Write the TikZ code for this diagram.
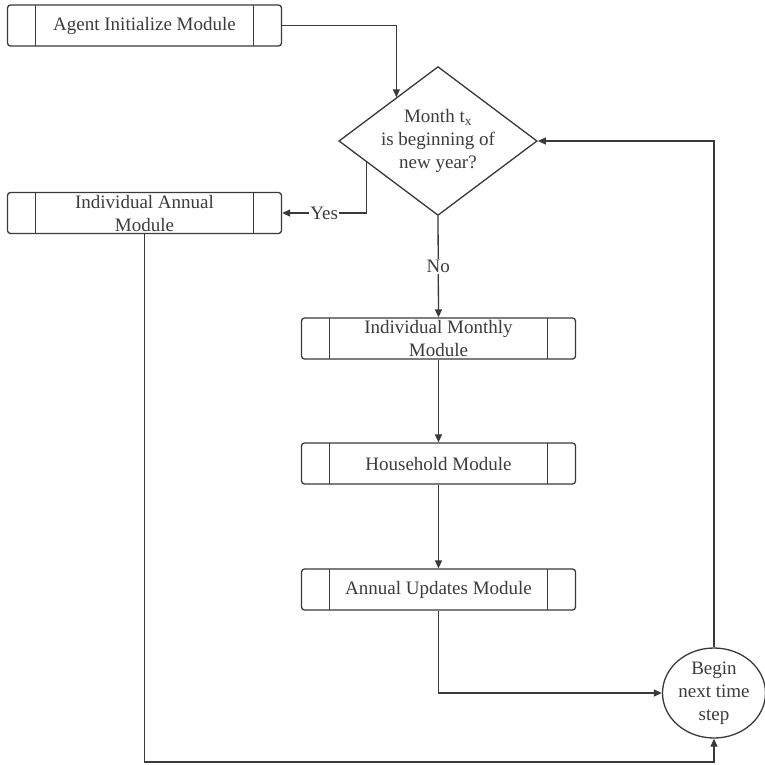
\documentclass[tikz,border=0pt]{standalone}
\usepackage{fontspec}
\setmainfont{Liberation Serif}
\usetikzlibrary{shapes.geometric,arrows.meta,calc}
\definecolor{lc}{RGB}{58,58,58}
\definecolor{tc}{RGB}{60,60,60}
\begin{document}
\begin{tikzpicture}[x=1pt,y=-1pt,
  every node/.style={font=\fontsize{19}{23}\selectfont, text=tc},
  proc/.style={draw=lc, line width=1.3pt, rounded corners=3pt, minimum width=274pt, minimum height=41pt, inner sep=0pt, align=center,
    path picture={\draw[lc, line width=1.3pt] ([xshift=28pt]path picture bounding box.north west) -- ([xshift=28pt]path picture bounding box.south west);
                  \draw[lc, line width=1.3pt] ([xshift=-28pt]path picture bounding box.north east) -- ([xshift=-28pt]path picture bounding box.south east);}},
  dec/.style={draw=lc, line width=1.3pt, shape=diamond, aspect=1.333, minimum width=192pt, minimum height=144pt, inner sep=0pt, align=center},
  term/.style={draw=lc, line width=1.3pt, shape=ellipse, minimum width=103pt, minimum height=90pt, inner sep=0pt, align=center},
  conn/.style={draw=lc, line width=1.3pt, -{Triangle[length=8pt,width=7pt]}},
  lbl/.style={fill=white, inner sep=1pt}
]
\useasboundingbox (0,0) rectangle (765,764);
\fill[white] (0,0) rectangle (765,764);

\node[proc] (agent) at (144.5,25.5) {Agent Initialize Module};
\node[dec] (d) at (438,141) {Month t\textsubscript{x}\\is beginning of\\new year?};
\node[proc] (annual) at (144.5,213) {Individual Annual\\Module};
\node[proc] (monthly) at (438.5,338.5) {Individual Monthly\\Module};
\node[proc] (house) at (438.5,463.5) {Household Module};
\node[proc] (upd) at (438.5,589.5) {Annual Updates Module};
\node[term] (e) at (714,693) {Begin\\next time\\step};

\coordinate (din) at ($(d.west)!0.583!(d.north)$);
\coordinate (dyes) at ($(d.west)!0.281!(d.south)$);
\coordinate (bot) at (714,762);

\draw[conn] (agent.east) -| (din);
\draw[conn] (dyes) |- node[lbl, pos=0.75] {Yes} (annual.east);
\draw[conn] (d.south) -- node[lbl, pos=0.5] {No} (monthly.north);
\draw[conn] (monthly.south) -- (house.north);
\draw[conn] (house.south) -- (upd.north);
\draw[conn] (upd.south) |- (e.west);
\draw[conn] (annual.south) |- (bot) -- (e.south);
\draw[conn] (e.north) |- (d.east);
\end{tikzpicture}
\end{document}
